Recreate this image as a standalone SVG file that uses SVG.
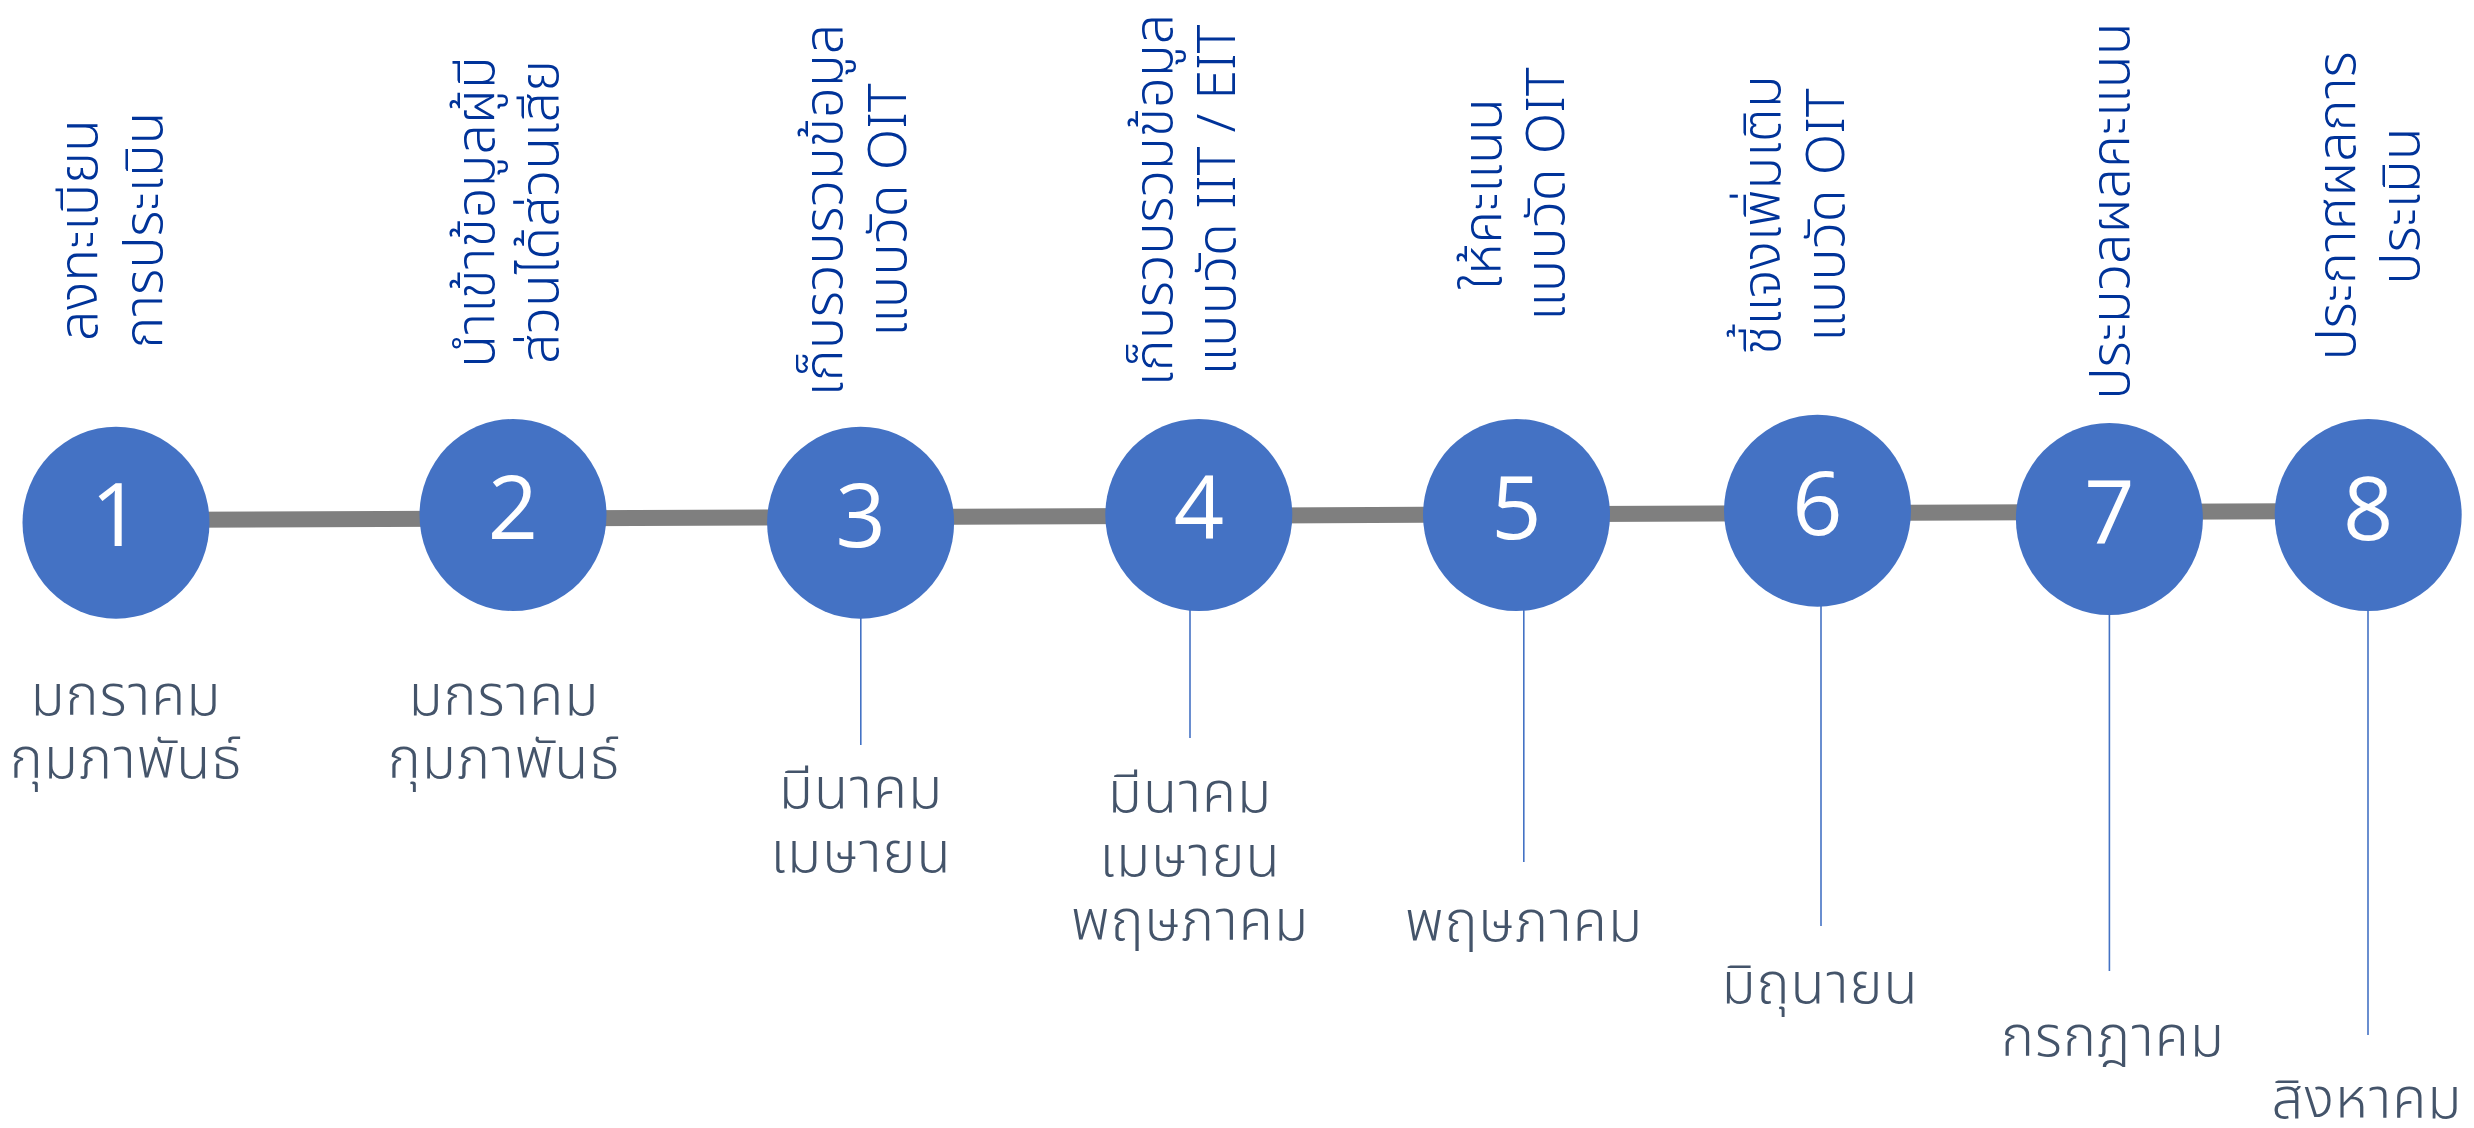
<svg xmlns="http://www.w3.org/2000/svg" width="2474" height="1128" viewBox="0 0 2474 1128">
<style>
.bg{fill:#ffffff}
.node{fill:#4472C4}
.num{fill:#ffffff;font-family:"Open Sans","Noto Sans",sans-serif;font-size:88px;text-anchor:middle}
.top{fill:#003399;font-family:"Noto Sans Thai","Noto Sans","DejaVu Sans",sans-serif;font-size:54px;font-weight:300;text-anchor:middle}
.bot{fill:#44546A;font-family:"Noto Sans Thai","Noto Sans","DejaVu Sans",sans-serif;font-size:56px;font-weight:300;letter-spacing:1px;text-anchor:middle}
.spine{stroke:#7F7F7F;stroke-width:16;fill:none}
.tick{stroke:#4472C4;stroke-width:1.6;fill:none}
</style>
<rect class="bg" x="0" y="0" width="2474" height="1128"/>
<g id="connectors">
<line class="spine" x1="116" y1="520" x2="2368" y2="511"/>
<line class="tick" x1="860.8" y1="600" x2="860.8" y2="745"/>
<line class="tick" x1="1190" y1="600" x2="1190" y2="738"/>
<line class="tick" x1="1523.8" y1="600" x2="1523.8" y2="862"/>
<line class="tick" x1="1821" y1="600" x2="1821" y2="926"/>
<line class="tick" x1="2109.4" y1="600" x2="2109.4" y2="971"/>
<line class="tick" x1="2368" y1="600" x2="2368" y2="1035"/>
</g>
<g id="step1">
<ellipse class="node" cx="116" cy="522.7" rx="93.5" ry="96"/>
<text class="num" x="116" y="546">1</text>
<text class="top" transform="translate(97,230) rotate(-90)"><tspan x="0" y="0">ลงทะเบียน</tspan><tspan x="0" y="65">การประเมิน</tspan></text>
<text class="bot"><tspan x="126" y="715">มกราคม</tspan><tspan x="126" y="778">กุมภาพันธ์</tspan></text>
</g>
<g id="step2">
<ellipse class="node" cx="513" cy="515" rx="93.5" ry="96"/>
<text class="num" x="513" y="539">2</text>
<text class="top" transform="translate(494,212) rotate(-90)"><tspan x="0" y="0">นำเข้าข้อมูลผู้มี</tspan><tspan x="0" y="64">ส่วนได้ส่วนเสีย</tspan></text>
<text class="bot"><tspan x="504" y="715">มกราคม</tspan><tspan x="504" y="778">กุมภาพันธ์</tspan></text>
</g>
<g id="step3">
<ellipse class="node" cx="860.6" cy="522.7" rx="93.5" ry="96"/>
<text class="num" x="860.6" y="546.5">3</text>
<text class="top" transform="translate(842,210) rotate(-90)"><tspan x="0" y="0">เก็บรวบรวมข้อมูล</tspan><tspan x="0" y="64">แบบวัด OIT</tspan></text>
<text class="bot"><tspan x="861" y="808">มีนาคม</tspan><tspan x="861" y="872">เมษายน</tspan></text>
</g>
<g id="step4">
<ellipse class="node" cx="1198.8" cy="515" rx="93.5" ry="96"/>
<text class="num" x="1198.8" y="539">4</text>
<text class="top" transform="translate(1172,200) rotate(-90)"><tspan x="0" y="0">เก็บรวบรวมข้อมูล</tspan><tspan x="0" y="63">แบบวัด IIT / EIT</tspan></text>
<text class="bot"><tspan x="1190" y="812">มีนาคม</tspan><tspan x="1190" y="876">เมษายน</tspan><tspan x="1190" y="940">พฤษภาคม</tspan></text>
</g>
<g id="step5">
<ellipse class="node" cx="1516.5" cy="515" rx="93.5" ry="96"/>
<text class="num" x="1516.5" y="539">5</text>
<text class="top" transform="translate(1501,194) rotate(-90)"><tspan x="0" y="0">ให้คะแนน</tspan><tspan x="0" y="63">แบบวัด OIT</tspan></text>
<text class="bot"><tspan x="1524" y="941">พฤษภาคม</tspan></text>
</g>
<g id="step6">
<ellipse class="node" cx="1817.5" cy="510.7" rx="93.5" ry="96"/>
<text class="num" x="1817.5" y="535">6</text>
<text class="top" transform="translate(1780,215) rotate(-90)"><tspan x="0" y="0">ชี้แจงเพิ่มเติม</tspan><tspan x="0" y="64">แบบวัด OIT</tspan></text>
<text class="bot"><tspan x="1820" y="1003">มิถุนายน</tspan></text>
</g>
<g id="step7">
<ellipse class="node" cx="2109.4" cy="519" rx="93.5" ry="96"/>
<text class="num" x="2109.4" y="543">7</text>
<text class="top" transform="translate(2129,211) rotate(-90)"><tspan x="0" y="0">ประมวลผลคะแนน</tspan></text>
<text class="bot"><tspan x="2113" y="1056">กรกฎาคม</tspan></text>
</g>
<g id="step8">
<ellipse class="node" cx="2368.2" cy="515" rx="93.5" ry="96"/>
<text class="num" x="2368.2" y="540">8</text>
<text class="top" transform="translate(2355,206) rotate(-90)"><tspan x="0" y="0">ประกาศผลการ</tspan><tspan x="0" y="64">ประเมิน</tspan></text>
<text class="bot"><tspan x="2367" y="1118">สิงหาคม</tspan></text>
</g>
</svg>
